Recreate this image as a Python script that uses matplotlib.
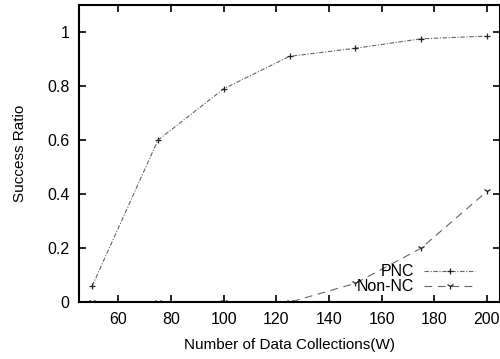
import matplotlib
matplotlib.use("Agg")
import matplotlib.pyplot as plt

plt.rcParams['font.family'] = ['Liberation Sans', 'DejaVu Sans']

collections = [50, 75, 100, 125, 150, 175, 200]
pnc = [0.06, 0.60, 0.79, 0.91, 0.94, 0.975, 0.985]
non_nc = [0.0, 0.0, 0.0, 0.0, 0.07, 0.20, 0.41]

xticks = [60, 80, 100, 120, 140, 160, 180, 200]
yticks = [0, 0.2, 0.4, 0.6, 0.8, 1]

fig = plt.figure(figsize=(5.0, 3.59), dpi=100)
ax = fig.add_axes([0.158, 0.158, 0.842, 0.828])

ax.plot(collections, pnc, color='#666666', lw=0.8, ls=(0, (4, 1.5, 1, 1.5)),
        marker='+', ms=5, mew=0.9, mec='#222222', label='PNC')
ax.plot(collections, non_nc, color='#666666', lw=0.8, ls=(0, (7, 5)),
        marker='1', ms=5, mew=0.9, mec='#222222', label='Non-NC')

ax.set_xlim(45, 205)
ax.set_ylim(0, 1.1)
ax.set_xticks(xticks)
ax.set_yticks(yticks)
ax.set_yticklabels(['0', '0.2', '0.4', '0.6', '0.8', '1'])
ax.tick_params(direction='in', top=True, right=True, length=5, width=1.2,
               labelsize=11.5, pad=7)
for s in ax.spines.values():
    s.set_linewidth(1.5)

ax.set_xlabel('Number of Data Collections(W)', fontsize=11, labelpad=8)
ax.set_ylabel('Success Ratio', fontsize=11, labelpad=14)

ax.legend(loc='lower right', frameon=False, markerfirst=False, fontsize=11.5,
          handlelength=3.2, handletextpad=0.6, labelspacing=0.0,
          borderaxespad=0.1, bbox_to_anchor=(0.96, 0.0))

fig.savefig('out.png', dpi=100)
